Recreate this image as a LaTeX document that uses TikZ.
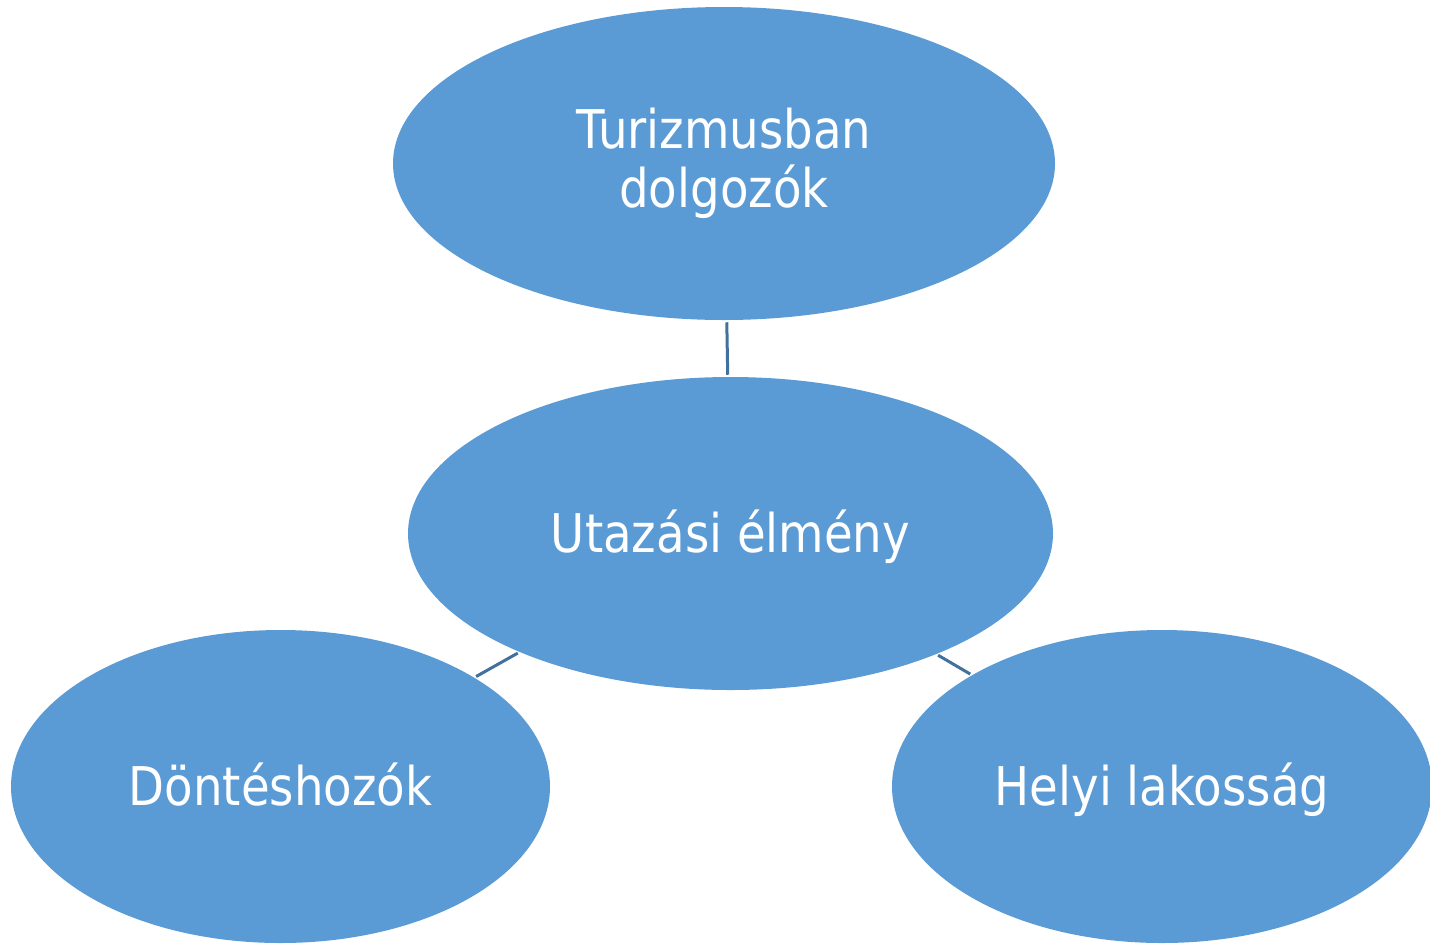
\documentclass[tikz,border=0pt]{standalone}
\usepackage{fontspec}
\setmainfont{DejaVu Sans}[FakeStretch=0.875]
\usetikzlibrary{shapes.geometric}
\definecolor{bubblefill}{RGB}{91,155,213}
\definecolor{linkline}{RGB}{65,113,156}
\tikzset{
  bubble/.style={ellipse,fill=bubblefill,inner sep=0pt,minimum height=234.75pt,
    text=white,align=center,font=\fontsize{40}{44}\selectfont},
  oneline/.style={text height=38pt,text depth=9pt},
  link/.style={draw=linkline,line width=2.25pt,shorten >=1.5pt,shorten <=1.5pt}
}
\begin{document}
\begin{tikzpicture}[x=0.75pt,y=-0.75pt]
\useasboundingbox (0,0) rectangle (1430,943);
\node [bubble,minimum width=496.5pt] (dolgozok) at (724,163.5) {Turizmusban\\dolgozók};
\node [bubble,oneline,minimum width=483.75pt] (elmeny) at (730.5,533.5) {Utazási élmény};
\node [bubble,oneline,minimum width=404.25pt] (dontes) at (280.5,786.5) {Döntéshozók};
\node [bubble,oneline,minimum width=405pt] (lakossag) at (1162,786.5) {Helyi lakosság};
% connectors
\draw [link] (dolgozok) -- (elmeny);
\draw [link] (elmeny) -- (dontes);
\draw [link] (elmeny) -- (lakossag);
\end{tikzpicture}
\end{document}
